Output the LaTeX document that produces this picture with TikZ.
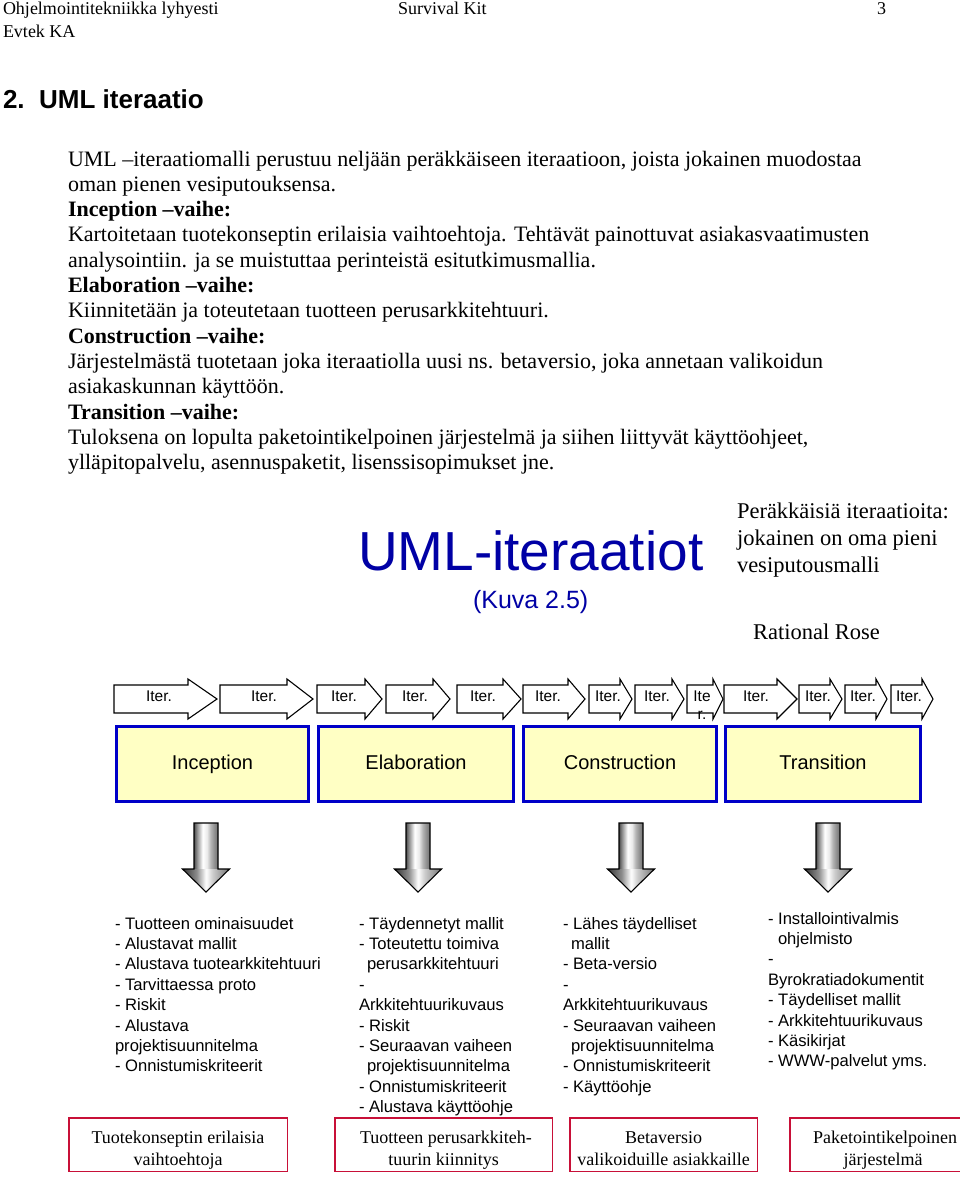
\documentclass[tikz,border=0pt]{standalone}
\usepackage{fontspec}
\setmainfont{Liberation Serif}
\setsansfont{Liberation Sans}
\definecolor{umlblue}{RGB}{0,0,165}
\definecolor{phaseblue}{RGB}{0,0,200}
\definecolor{phasefill}{RGB}{255,255,196}
\definecolor{boxred}{RGB}{200,16,56}
\pgfdeclarehorizontalshading{shaftsh}{100bp}{color(0bp)=(black!70); color(25bp)=(black!70); color(31bp)=(black!45); color(43bp)=(white); color(52bp)=(black!8); color(60bp)=(black!30); color(68bp)=(black!45); color(75bp)=(black!55); color(100bp)=(black!55)}
\pgfdeclarehorizontalshading{headsh}{100bp}{color(0bp)=(black!80); color(25bp)=(black!80); color(40bp)=(black!45); color(50bp)=(white); color(57bp)=(black!20); color(75bp)=(black!55); color(100bp)=(black!55)}
\tikzset{
  txt/.style={anchor=base west, inner sep=0pt, outer sep=0pt},
  hdr/.style={txt, font=\fontsize{18}{21}\selectfont},
  body/.style={txt, font=\fontsize{22}{25}\selectfont},
  bodyhead/.style={txt, font=\fontsize{22}{25}\selectfont\bfseries},
  side/.style={txt, font=\fontsize{22.5}{27}\selectfont},
  iterarrow/.style={draw=black, fill=white, line width=1.1pt, line join=miter},
  iterlbl/.style={anchor=base, inner sep=0pt, font=\sffamily\fontsize{15.5}{18}\selectfont},
  phase/.style={draw=phaseblue, fill=phasefill, line width=3pt, minimum height=75pt, inner sep=0pt, text height=14pt, text depth=4pt, font=\sffamily\fontsize{20}{24}\selectfont},
  outbox/.style={draw=boxred, line width=1.5pt, fill=white, inner sep=0pt, minimum height=53.5pt},
  outtxt/.style={anchor=base, inner sep=0pt, font=\fontsize{18}{22}\selectfont},
  lst/.style={txt, font=\sffamily\fontsize{16.6}{20}\selectfont},
  downarrow/.style={draw=black, line width=1.1pt, line join=miter},
}
\begin{document}
\begin{tikzpicture}[x=1pt,y=-1pt]
\useasboundingbox (0,0) rectangle (960,1178);
\fill[white] (0,0) rectangle (960,1178);

% page header
\node[hdr] (h1) at (3,14) {Ohjelmointitekniikka lyhyesti};
\node[hdr] (h2) at (398,14) {Survival Kit};
\node[hdr] (h3) at (877,14) {3};
\node[hdr] (h4) at (3,37) {Evtek KA};

\node[txt, font=\sffamily\bfseries\fontsize{26}{30}\selectfont] (title) at (3,108) {2.\ \ UML iteraatio};

% body text
\node[body] (b1) at (68,166) {UML –iteraatiomalli perustuu neljään peräkkäiseen iteraatioon, joista jokainen muodostaa};
\node[body] (b2) at (68,191.3) {oman pienen vesiputouksensa.};
\node[bodyhead] (b3) at (68,216.6) {Inception –vaihe:};
\node[body] (b4) at (68,241.9) {Kartoitetaan tuotekonseptin erilaisia vaihtoehtoja. Tehtävät painottuvat asiakasvaatimusten};
\node[body] (b5) at (68,267.2) {analysointiin. ja se muistuttaa perinteistä esitutkimusmallia.};
\node[bodyhead] (b6) at (68,292.5) {Elaboration –vaihe:};
\node[body] (b7) at (68,317.8) {Kiinnitetään ja toteutetaan tuotteen perusarkkitehtuuri.};
\node[bodyhead] (b8) at (68,343.1) {Construction –vaihe:};
\node[body] (b9) at (68,368.4) {Järjestelmästä tuotetaan joka iteraatiolla uusi ns. betaversio, joka annetaan valikoidun};
\node[body] (b10) at (68,393.7) {asiakaskunnan käyttöön.};
\node[bodyhead] (b11) at (68,419) {Transition –vaihe:};
\node[body] (b12) at (68,444.3) {Tuloksena on lopulta paketointikelpoinen järjestelmä ja siihen liittyvät käyttöohjeet,};
\node[body] (b13) at (68,469.6) {ylläpitopalvelu, asennuspaketit, lisenssisopimukset jne.};

% diagram title
\node[txt, text=umlblue, font=\sffamily\fontsize{55}{60}\selectfont] (umltitle) at (358,570) {UML-iteraatiot};
\node[txt, text=umlblue, font=\sffamily\fontsize{25}{30}\selectfont] (kuva) at (473,608) {(Kuva 2.5)};
\node[side] (s1) at (737,518) {Peräkkäisiä iteraatioita:};
\node[side] (s2) at (737,545) {jokainen on oma pieni};
\node[side] (s3) at (737,572) {vesiputousmalli};
\node[side] (s4) at (753,639) {Rational Rose};

% iteration arrows
\foreach \L/\H/\T/\X [count=\i] in {114/188/217/159, 220/287/313/264, 317/365/382/344, 386/433/450/415, 457/503/521/483, 523/568/585/548, 589/620/632/608, 635/672/684/657, 724/777/797/756, 799/830/842/818, 845/876/887/863, 891/922/933/909}
{
  \draw[iterarrow] (\L,685) -- (\H,685) -- (\H,679) -- (\T,699) -- (\H,719) -- (\H,713) -- (\L,713) -- cycle;
  \node[iterlbl] (it\i) at (\X,701) {Iter.};
}
\draw[iterarrow] (687,685) -- (713,685) -- (713,679) -- (723,699) -- (713,719) -- (713,713) -- (687,713) -- cycle;
\node[iterlbl] (itA) at (702,701) {Ite};
\node[iterlbl] (itB) at (702,719) {r.};

% phases
\node[phase, minimum width=192pt] (inc) at (212.5,764) {Inception};
\node[phase, minimum width=195pt] (ela) at (416,764) {Elaboration};
\node[phase, minimum width=193pt] (con) at (620,764) {Construction};
\node[phase, minimum width=195pt] (tra) at (823,764) {Transition};

% down arrows
\foreach \x [count=\i] in {206,418,631,828}
{
  \shade[shading=shaftsh] (\x-12,823) rectangle (\x+12,869);
  \shade[shading=headsh] (\x-23.5,869) -- (\x,892) -- (\x+23.5,869) -- cycle;
  \draw[downarrow] (\x-12,823) -- (\x+12,823) -- (\x+12,869) -- (\x+23.5,869) -- (\x,892) -- (\x-23.5,869) -- (\x-12,869) -- cycle;
}

% lists
\foreach \t [count=\i from 0] in {- Tuotteen ominaisuudet, - Alustavat mallit, - Alustava tuotearkkitehtuuri, - Tarvittaessa proto, - Riskit, - Alustava, projektisuunnitelma, - Onnistumiskriteerit}
  \node[lst] (ca\i) at (115,929+20.4*\i) {\t};
\foreach \t [count=\i from 0] in {- Täydennetyt mallit, - Toteutettu toimiva, {\hspace{8pt}perusarkkitehtuuri}, -, Arkkitehtuurikuvaus, - Riskit, - Seuraavan vaiheen, {\hspace{8pt}projektisuunnitelma}, - Onnistumiskriteerit, - Alustava käyttöohje}
  \node[lst] (cb\i) at (359,929+20.4*\i) {\t};
\foreach \t [count=\i from 0] in {- Lähes täydelliset, {\hspace{8pt}mallit}, - Beta-versio, -, Arkkitehtuurikuvaus, - Seuraavan vaiheen, {\hspace{8pt}projektisuunnitelma}, - Onnistumiskriteerit, - Käyttöohje}
  \node[lst] (cc\i) at (563,929+20.4*\i) {\t};
\foreach \t [count=\i from 0] in {- Installointivalmis, {\hspace{10pt}ohjelmisto}, -, Byrokratiadokumentit, - Täydelliset mallit, - Arkkitehtuurikuvaus, - Käsikirjat, - WWW-palvelut yms.}
  \node[lst] (cd\i) at (768,924+20.4*\i) {\t};

% output boxes
\node[outbox, minimum width=218.5pt] (o1) at (178,1144.5) {};
\node[outtxt] (o1a) at (178,1143) {Tuotekonseptin erilaisia};
\node[outtxt] (o1b) at (178,1165) {vaihtoehtoja};
\node[outbox, minimum width=217.5pt] (o2) at (443.5,1144.5) {};
\node[outtxt] (o2a) at (446,1143) {Tuotteen perusarkkiteh-};
\node[outtxt] (o2b) at (443.5,1165) {tuurin kiinnitys};
\node[outbox, minimum width=187.5pt] (o3) at (663.5,1144.5) {};
\node[outtxt] (o3a) at (663.5,1143) {Betaversio};
\node[outtxt] (o3b) at (663.5,1165) {valikoiduille asiakkaille};
\node[outbox, minimum width=190.5pt] (o4) at (885,1144.5) {};
\node[outtxt] (o4a) at (885,1143) {Paketointikelpoinen};
\node[outtxt] (o4b) at (883,1165) {järjestelmä};
\end{tikzpicture}
\end{document}
